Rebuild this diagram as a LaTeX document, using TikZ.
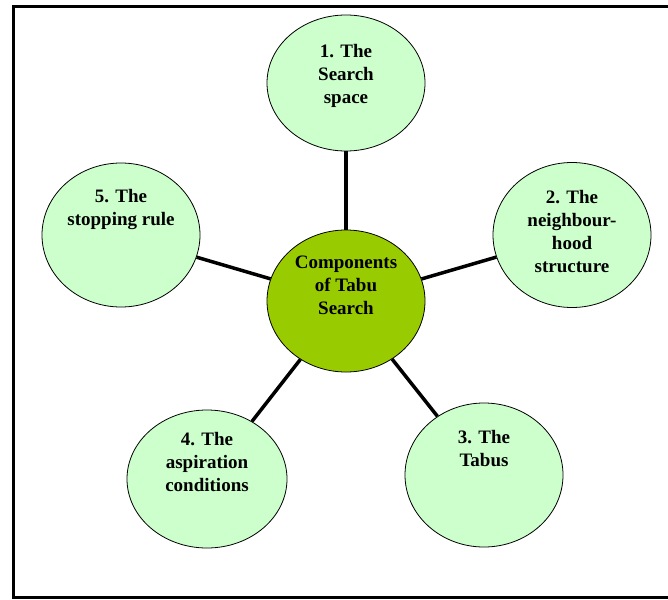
\documentclass[tikz,border=0pt]{standalone}
\usepackage{fontspec}
\setmainfont{Liberation Serif}
\usepackage{tikz}
\usetikzlibrary{positioning, calc}
\usetikzlibrary{shapes.geometric}
\definecolor{lightgreen}{RGB}{204,255,204}
\definecolor{olivegreen}{RGB}{153,204,0}

\begin{document}
\begin{tikzpicture}[x=1pt, y=-1pt,
    part/.style={ellipse, draw, line width=0.8pt, fill=lightgreen, minimum width=158pt, minimum height=142pt},
    hub/.style={part, fill=olivegreen},
    caption/.style={anchor=north, inner sep=0pt, align=center, font=\fontsize{19}{23}\selectfont\bfseries},
    spoke/.style={line width=3.5pt}]
                    \useasboundingbox (0,0) rectangle (668,599);
                    \draw[line width=3pt] (13,6.5) rectangle (672,597.5);
                    \node[hub] (tabu) at (346,301) {};
                    \node[part, minimum height=136pt] (space) at (346,83) {};
                    \node[part, minimum height=145pt] (hood) at (572,235) {};
                    \node[part, minimum height=144pt] (tabus) at (484,475) {};
                    \node[part, minimum width=160pt, minimum height=138pt] (aspire) at (207,479) {};
                    \node[part, minimum height=144pt] (stop) at (121,235) {};
                    \foreach \n in {space, hood, tabus, aspire, stop}
                        \draw[spoke] (tabu) -- (\n);
                    \node[caption, below=26pt of tabu.north] (tabutext) {Components\\of Tabu\\Search};
                    \node[caption, below=30pt of space.north] (spacetext) {1. The\\Search\\space};
                    \node[caption, below=28pt of hood.north] (hoodtext) {2. The\\neighbour-\\hood\\structure};
                    \node[caption, below=28pt of tabus.north] (tabustext) {3. The\\Tabus};
                    \node[caption, below=23pt of aspire.north] (aspiretext) {4. The\\aspiration\\conditions};
                    \node[caption, below=27pt of stop.north] (stoptext) {5. The\\stopping rule};
                \end{tikzpicture}
\end{document}
